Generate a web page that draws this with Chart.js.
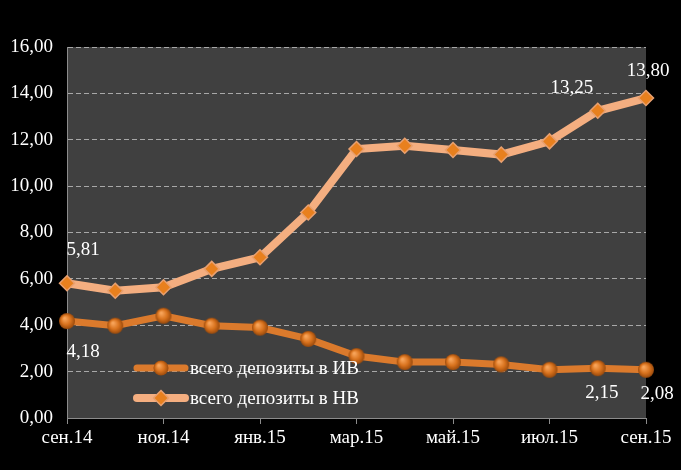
<!DOCTYPE html>
<html><head><meta charset="utf-8">
<script src="https://cdn.jsdelivr.net/npm/chart.js@4/dist/chart.umd.min.js"></script>
<style>html,body{margin:0;padding:0;background:#000;}#wrap{width:681px;height:470px;}</style>
</head><body><div id="wrap"><canvas id="c" width="681" height="470"></canvas></div>
<script>
const categories = ['сен.14','окт.14','ноя.14','дек.14','янв.15','фев.15','мар.15','апр.15','май.15','июн.15','июл.15','авг.15','сен.15'];
const seriesIV = [4.18,3.98,4.41,3.98,3.90,3.41,2.67,2.41,2.41,2.31,2.08,2.15,2.08];
const seriesNV = [5.81,5.49,5.64,6.43,6.93,8.86,11.60,11.74,11.56,11.36,11.93,13.25,13.80];
const seriesNames = ['всего депозиты в ИВ','всего депозиты в НВ'];
const yTicks = [0,2,4,6,8,10,12,14,16];
const labelledIV = [0, 11, 12];
const labelledNV = [0, 11, 12];

const FONT = '"Liberation Serif", "Times New Roman", serif';
const fmt = v => v.toFixed(2).replace('.', ',');

const labelOffsets = {
  '0:0': [16, 31], '0:11': [4, 25], '0:12': [11, 24],
  '1:0': [16, -33], '1:11': [-26, -23], '1:12': [2, -27]
};

const bgPlugin = {
  id: 'plotBg',
  beforeDraw(chart) {
    const {ctx, chartArea: a} = chart;
    ctx.save();
    ctx.fillStyle = '#000';
    ctx.fillRect(0, 0, chart.width, chart.height);
    ctx.fillStyle = '#404040';
    ctx.fillRect(a.left, a.top, a.right - a.left, a.bottom - a.top);
    ctx.restore();
  }
};

const labelPlugin = {
  id: 'valueLabels',
  afterDatasetsDraw(chart) {
    const ctx = chart.ctx;
    ctx.save();
    ctx.font = '19px ' + FONT;
    ctx.fillStyle = '#fff';
    ctx.textBaseline = 'middle';
    ctx.textAlign = 'center';
    [[0, labelledIV], [1, labelledNV]].forEach(([di, idxs]) => {
      const meta = chart.getDatasetMeta(di);
      idxs.forEach(i => {
        const p = meta.data[i];
        const v = chart.data.datasets[di].data[i];
        const [dx, dy] = labelOffsets[di + ':' + i];
        ctx.fillText(fmt(v), p.x + dx, p.y + dy);
      });
    });
    ctx.restore();
  }
};

function sphere(ctx, x, y, r) {
  const g = ctx.createRadialGradient(x - r * 0.3, y - r * 0.35, r * 0.1, x, y, r);
  g.addColorStop(0, '#F7A45A');
  g.addColorStop(0.55, '#D9731E');
  g.addColorStop(1, '#9A4A0C');
  ctx.fillStyle = g;
  ctx.beginPath(); ctx.arc(x, y, r, 0, Math.PI * 2); ctx.fill();
}

const legendPlugin = {
  id: 'innerLegend',
  afterDatasetsDraw(chart) {
    const ctx = chart.ctx;
    const a = chart.chartArea;
    ctx.save();
    chart.data.datasets.forEach((ds, i) => {
      const y = a.top + 321 + i * 30;
      const x0 = a.left + 70, x1 = a.left + 118;
      ctx.strokeStyle = ds.borderColor;
      ctx.lineWidth = ds.borderWidth;
      ctx.lineCap = 'round';
      ctx.beginPath(); ctx.moveTo(x0, y); ctx.lineTo(x1, y); ctx.stroke();
      const cx = (x0 + x1) / 2;
      if (ds.pointStyle === 'rectRot') {
        ctx.fillStyle = '#E8801E';
        ctx.strokeStyle = '#E8A070';
        ctx.lineWidth = 1.5;
        ctx.beginPath();
        ctx.moveTo(cx, y - 7.5); ctx.lineTo(cx + 7.5, y); ctx.lineTo(cx, y + 7.5); ctx.lineTo(cx - 7.5, y); ctx.closePath();
        ctx.fill(); ctx.stroke();
      } else {
        sphere(ctx, cx, y, 7.5);
      }
      ctx.font = '19px ' + FONT;
      ctx.fillStyle = '#fff';
      ctx.textAlign = 'left';
      ctx.textBaseline = 'middle';
      ctx.fillText(ds.label, x1 + 5, y + 1);
    });
    ctx.restore();
  }
};

const sphereStyle = (() => {
  const c = document.createElement('canvas');
  c.width = 18; c.height = 18;
  const g = c.getContext('2d');
  sphere(g, 9, 9, 8);
  return c;
})();

new Chart(document.getElementById('c'), {
  type: 'line',
  data: {
    labels: categories,
    datasets: [
      {
        label: seriesNames[0], data: seriesIV,
        borderColor: '#DB7A2C', borderWidth: 7,
        pointStyle: sphereStyle, pointRadius: 8,
        pointBackgroundColor: '#D77420', pointBorderColor: '#A85510', pointBorderWidth: 0,
        tension: 0, order: 1
      },
      {
        label: seriesNames[1], data: seriesNV,
        borderColor: '#F4AE80', borderWidth: 8,
        pointStyle: 'rectRot', pointRadius: 7.5,
        pointBackgroundColor: '#E8801E', pointBorderColor: '#E8A070', pointBorderWidth: 1.5,
        tension: 0, order: 0
      }
    ]
  },
  options: {
    responsive: false,
    animation: false,
    devicePixelRatio: 1,
    layout: { padding: { left: 0, right: 35, top: 47, bottom: 0 } },
    plugins: { legend: { display: false }, tooltip: { enabled: false } },
    scales: {
      x: {
        offset: false,
        ticks: {
          autoSkip: false, maxRotation: 0, color: '#fff', padding: 3,
          font: { family: FONT, size: 19 },
          callback: (v, i) => i % 2 === 0 ? categories[i] : ''
        },
        grid: {
          drawOnChartArea: false, drawTicks: true, tickLength: 6,
          color: ctx => (ctx.index % 2 === 0 ? '#8c8c8c' : 'rgba(0,0,0,0)')
        },
        border: { color: '#8c8c8c', width: 1 },
        afterFit: s => { s.height = 52; }
      },
      y: {
        min: 0, max: 16,
        afterBuildTicks: s => { s.ticks = yTicks.map(v => ({ value: v })); },
        ticks: { color: '#fff', padding: 14, font: { family: FONT, size: 19 }, callback: v => fmt(v) },
        grid: { color: '#a8a8a8', lineWidth: 1, drawTicks: false },
        border: { color: '#8c8c8c', width: 1, dash: [5, 3] },
        afterFit: s => { s.width = 67; }
      }
    }
  },
  plugins: [bgPlugin, labelPlugin, legendPlugin]
});
</script>
</body></html>
